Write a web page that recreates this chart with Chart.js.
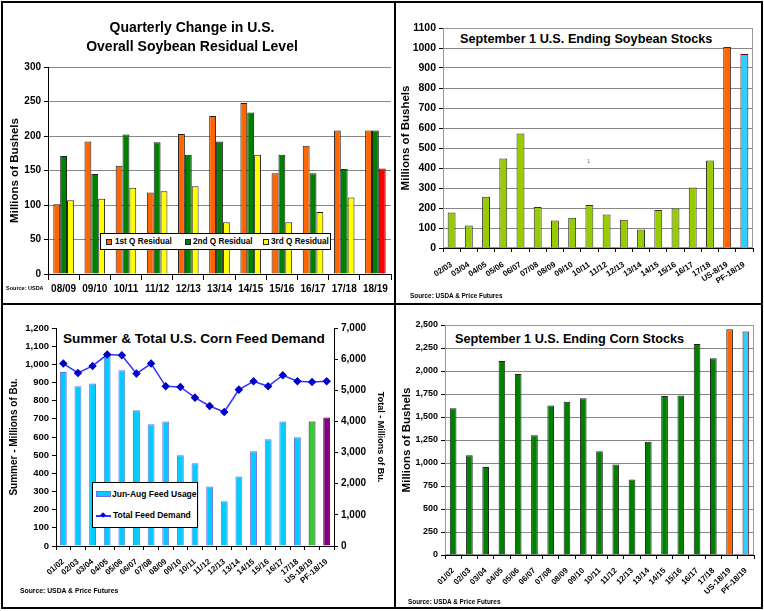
<!DOCTYPE html>
<html lang="en">
<head>
<meta charset="UTF-8">
<title>Soybean and Corn Stocks</title>
<script src="https://cdn.jsdelivr.net/npm/chart.js"></script>
<style>
  body { margin: 0; background: #fff; }
  #page { position: relative; width: 764px; height: 611px; background: #fff; overflow: hidden;
          font-family: 'Liberation Sans', Arial, sans-serif; }
  canvas { position: absolute; }
  .rule { position: absolute; background: #000; z-index: 6; }
  .txt { position: absolute; font-weight: bold; white-space: nowrap; color: #000; z-index: 4; }
  .boxed { background: #fff; padding: 0 2px; }
  .legend { position: absolute; background: #fff; border: 1px solid #000; z-index: 4;
            font-weight: bold; white-space: nowrap; }
  .legend span { position: absolute; }
  .sw { border: 1px solid #222; box-sizing: border-box; }
</style>
</head>
<body>
<div id="page">
  <canvas id="residual" width="394" height="302" style="left:0;top:1px"></canvas>
  <canvas id="soyStocks" width="365" height="300" style="left:397px;top:3px"></canvas>
  <canvas id="feed" width="391" height="302" style="left:3px;top:305px"></canvas>
  <canvas id="cornStocks" width="365" height="302" style="left:397px;top:305px"></canvas>

  <!-- frame and dividers -->
  <div class="rule" style="left:1px;top:1px;width:762px;height:2px"></div>
  <div class="rule" style="left:1px;top:607px;width:762px;height:2px"></div>
  <div class="rule" style="left:1px;top:1px;width:2px;height:608px"></div>
  <div class="rule" style="left:761px;top:1px;width:2px;height:608px"></div>
  <div class="rule" style="left:394px;top:1px;width:2px;height:608px"></div>
  <div class="rule" style="left:1px;top:303px;width:762px;height:2px"></div>

  <!-- top left -->
  <div class="txt" style="left:0;width:384px;top:18px;text-align:center;font-size:14px;line-height:19px">Quarterly Change in U.S.<br>Overall Soybean Residual Level</div>
  <div class="legend" style="left:100px;top:233px;width:229px;height:15px;font-size:8.2px">
    <span class="sw" style="left:5px;top:5px;width:6px;height:6px;background:#FF6600"></span>
    <span style="left:14px;top:3px">1st Q Residual</span>
    <span class="sw" style="left:84px;top:5px;width:6px;height:6px;background:#008000"></span>
    <span style="left:92px;top:3px">2nd Q Residual</span>
    <span class="sw" style="left:162px;top:5px;width:6px;height:6px;background:#FFFF00"></span>
    <span style="left:170px;top:3px">3rd Q Residual</span>
  </div>
  <div class="txt" style="left:6px;top:285px;font-size:5.5px">Source: USDA</div>

  <!-- top right -->
  <div class="txt boxed" style="left:458px;top:32px;font-size:12.7px">September 1 U.S. Ending Soybean Stocks</div>
  <div class="txt" style="left:587px;top:158px;font-size:6px;color:#777;font-weight:normal">1</div>
  <div class="txt" style="left:410px;top:292px;font-size:6.4px">Source: USDA &amp; Price Futures</div>

  <!-- bottom left -->
  <div class="txt boxed" style="left:61px;top:331px;font-size:13.6px">Summer &amp; Total U.S. Corn Feed Demand</div>
  <div class="legend" style="left:92px;top:482px;width:104px;height:44px;font-size:8.5px">
    <span style="left:3px;top:8px;width:15px;height:6px;background:#00CCFF;border:1px solid #7070E0;box-sizing:border-box"></span>
    <span style="left:19px;top:6px">Jun-Aug Feed Usage</span>
    <span style="left:3px;top:32px;width:15px;height:1.5px;background:#3333FF"></span>
    <span style="left:8px;top:30px;width:4px;height:4px;background:#0000CC;transform:rotate(45deg)"></span>
    <span style="left:20px;top:27px">Total Feed Demand</span>
  </div>
  <div class="txt" style="left:20px;top:587px;font-size:6.8px">Source: USDA &amp; Price Futures</div>

  <!-- bottom right -->
  <div class="txt boxed" style="left:453px;top:332px;font-size:12.7px">September 1 U.S. Ending Corn Stocks</div>
  <div class="txt" style="left:408px;top:598px;font-size:6.4px">Source: USDA &amp; Price Futures</div>
</div>

<script>
// Quarterly soybean residual (million bushels)
const residualYears = ['08/09', '09/10', '10/11', '11/12', '12/13', '13/14', '14/15', '15/16', '16/17', '17/18', '18/19'];
const residualQ1 = [101, 192, 157, 118, 203, 229, 248, 146, 186, 208, 208];
const residualQ2 = [171, 145, 202, 191, 173, 192, 234, 173, 146, 152, 208];
const residualQ3 = [107, 109, 125, 120, 127, 75, 173, 75, 90, 111, 153];

// September 1 soybean stocks
const soyYears = ['02/03', '03/04', '04/05', '05/06', '06/07', '07/08', '08/09', '09/10', '10/11', '11/12',
                  '12/13', '13/14', '14/15', '15/16', '16/17', '17/18', 'US-8/19', 'PF-18/19'];
const soyStocks = [178, 112, 256, 448, 573, 205, 138, 151, 215, 168, 141, 92, 190, 197, 303, 438, 1005, 970];

// corn feed demand: summer (left axis) and total (right axis)
const feedYears = ['01/02', '02/03', '03/04', '04/05', '05/06', '06/07', '07/08', '08/09', '09/10', '10/11',
                   '11/12', '12/13', '13/14', '14/15', '15/16', '16/17', '17/18', 'US-18/19', 'PF-18/19'];
const summerFeed = [958, 879, 894, 1053, 967, 747, 670, 686, 499, 455, 328, 246, 383, 521, 587, 686, 598, 686, 708];
const totalFeed = [5857, 5557, 5782, 6146, 6124, 5535, 5857, 5128, 5107, 4764, 4497, 4304, 5021, 5289, 5128, 5482, 5289, 5268, 5289];

// September 1 corn stocks
const cornYears = feedYears;
const cornStocks = [1594, 1085, 957, 2110, 1968, 1302, 1624, 1666, 1705, 1127, 985, 820, 1230, 1728, 1735, 2293, 2138, 2455, 2430];

const ORANGE = '#FF6600', GREEN = '#008000', YELLOW = '#FFFF00', RED = '#FF0000';
const LIME = '#99CC00', CYAN = '#33CCFF';

Chart.defaults.font.family = "'Liberation Sans', Arial, sans-serif";
Chart.defaults.font.weight = 'bold';
Chart.defaults.color = '#000';
Chart.defaults.animation = false;
Chart.defaults.plugins.legend.display = false;
Chart.defaults.plugins.tooltip.enabled = false;

// thin grey box round the plot area
const frame = {
  id: 'frame',
  beforeDatasetsDraw(chart) {
    const { ctx, chartArea: a } = chart;
    ctx.save();
    ctx.strokeStyle = '#999';
    ctx.lineWidth = 1;
    ctx.strokeRect(a.left + 0.5, a.top + 0.5, a.width - 1, a.height - 1);
    ctx.restore();
  }
};

function xAxis(height, size, rotate, pad) {
  return {
    grid: { drawOnChartArea: false, tickLength: 4, tickColor: '#000' },
    border: { color: '#000' },
    ticks: { font: { size: size }, autoSkip: false, minRotation: rotate, maxRotation: rotate, padding: pad },
    afterFit: s => { s.height = height; }
  };
}

function yAxis(width, max, step, size, title, titleSize, gridColor, fmt) {
  return {
    min: 0, max: max,
    ticks: { stepSize: step, font: { size: size }, padding: 3, callback: fmt },
    grid: { color: gridColor || 'transparent', tickColor: '#000', tickLength: 4 },
    border: { color: '#000' },
    title: { display: true, text: title, font: { size: titleSize }, padding: 0 },
    afterFit: s => { s.width = width; }
  };
}

const plain = v => String(v);
const comma = v => v.toLocaleString('en-US');

// top left
new Chart(document.getElementById('residual'), {
  type: 'bar',
  data: {
    labels: residualYears,
    datasets: [
      { data: residualQ1, backgroundColor: ORANGE, borderColor: '#222', borderWidth: 1 },
      { data: residualQ2, backgroundColor: GREEN, borderColor: '#222', borderWidth: 1 },
      { data: residualQ3, backgroundColor: residualYears.map((y, i) => i === residualYears.length - 1 ? RED : YELLOW),
        borderColor: '#222', borderWidth: 1 }
    ]
  },
  options: {
    responsive: false,
    layout: { padding: { left: 8, top: 66, right: 3, bottom: 5 } },
    datasets: { bar: { categoryPercentage: 0.66, barPercentage: 1 } },
    scales: {
      x: Object.assign(xAxis(24, 10, 0, 3), { grid: { drawOnChartArea: false, tickLength: 6, tickColor: '#000' } }),
      y: yAxis(40, 300, 50, 10, 'Millions of Bushels', 11.5, '#888', plain)
    }
  }
});

// top right
new Chart(document.getElementById('soyStocks'), {
  type: 'bar',
  data: {
    labels: soyYears,
    datasets: [{
      data: soyStocks,
      backgroundColor: soyYears.map(y => y.startsWith('US') ? ORANGE : y.startsWith('PF') ? CYAN : LIME),
      borderColor: soyYears.map(y => y.startsWith('PF') ? '#600' : '#333'),
      borderWidth: 1
    }]
  },
  options: {
    responsive: false,
    layout: { padding: { left: 2, top: 25, right: 9, bottom: 20 } },
    datasets: { bar: { categoryPercentage: 0.46, barPercentage: 1 } },
    scales: {
      x: xAxis(35, 8, 33, 8),
      y: yAxis(44, 1100, 100, 10.5, 'Millions of Bushels', 11.5, '#888', plain)
    }
  },
  plugins: [frame]
});

// bottom left
new Chart(document.getElementById('feed'), {
  type: 'bar',
  data: {
    labels: feedYears,
    datasets: [
      { type: 'line', data: totalFeed, yAxisID: 'y1', order: 0,
        borderColor: '#3333FF', borderWidth: 1.5, pointStyle: 'rectRot', pointRadius: 3.2,
        pointBackgroundColor: '#0000CC', pointBorderColor: '#0000CC' },
      { data: summerFeed, yAxisID: 'y', order: 1,
        backgroundColor: feedYears.map(y => y.startsWith('US') ? '#33CC33' : y.startsWith('PF') ? '#800080' : '#00CCFF'),
        borderColor: feedYears.map(y => y.startsWith('US') || y.startsWith('PF') ? '#222' : '#7070E0'),
        borderWidth: 1 }
    ]
  },
  options: {
    responsive: false,
    layout: { padding: { left: 5, top: 23, right: 8, bottom: 4 } },
    datasets: { bar: { categoryPercentage: 0.47, barPercentage: 1 } },
    scales: {
      x: xAxis(57, 8, 40, 7),
      y: yAxis(48, 1200, 100, 9.5, 'Summer - Millions of Bu.', 10, null, comma),
      y1: Object.assign(yAxis(52, 7000, 1000, 10, 'Total - Millions of Bu.', 9, null, comma), { position: 'right' })
    }
  }
});

// bottom right
new Chart(document.getElementById('cornStocks'), {
  type: 'bar',
  data: {
    labels: cornYears,
    datasets: [{
      data: cornStocks,
      backgroundColor: cornYears.map(y => y.startsWith('US') ? ORANGE : y.startsWith('PF') ? CYAN : GREEN),
      borderColor: cornYears.map(y => y.startsWith('PF') ? '#600' : '#222'),
      borderWidth: 1
    }]
  },
  options: {
    responsive: false,
    layout: { padding: { left: 3, top: 20, right: 8, bottom: 4 } },
    datasets: { bar: { categoryPercentage: 0.41, barPercentage: 1 } },
    scales: {
      x: xAxis(48, 8, 45, 7),
      y: yAxis(45, 2500, 250, 9, 'Millions of Bushels', 11.5, '#888', comma)
    }
  },
  plugins: [frame]
});
</script>
</body>
</html>
